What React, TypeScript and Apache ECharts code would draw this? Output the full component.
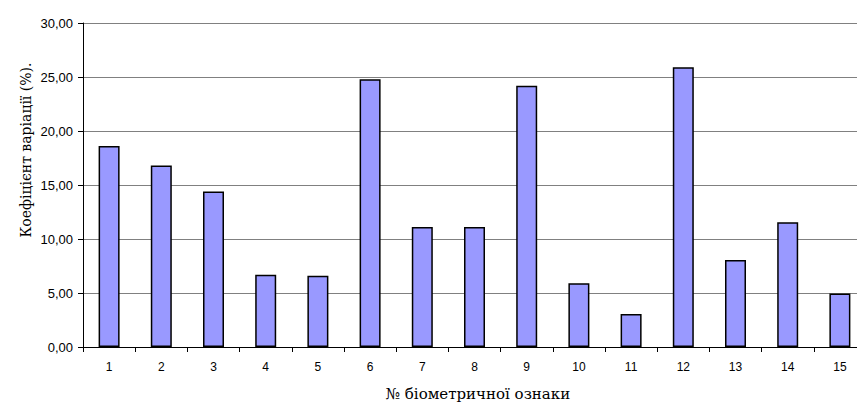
import React, { useEffect, useRef } from "react";
import * as echarts from "echarts";

const categories = ["1", "2", "3", "4", "5", "6", "7", "8", "9", "10", "11", "12", "13", "14", "15"];
const values = [18.6, 16.8, 14.4, 6.7, 6.6, 24.8, 11.1, 11.1, 24.2, 5.9, 3.05, 25.9, 8.05, 11.55, 4.95];
const yTitle = "Коефіцієнт варіації (%).";
const xTitle = "№ біометричної ознаки";

export default function App() {
  const ref = useRef<HTMLDivElement>(null);
  useEffect(() => {
    const chart = echarts.init(ref.current!, null, { renderer: "svg" });
    chart.setOption({
      animation: false,
      backgroundColor: "#ffffff",
      grid: { left: 83, top: 23, bottom: 57, right: 0 },
      xAxis: {
        type: "category",
        data: categories,
        axisLine: { lineStyle: { color: "#000", width: 1 } },
        axisTick: { show: true, length: 5, lineStyle: { color: "#000" } },
        axisLabel: { color: "#000", fontFamily: "Liberation Sans, Arial", fontSize: 12, margin: 14 },
      },
      yAxis: {
        type: "value",
        min: 0,
        max: 30,
        interval: 5,
        axisLine: { show: true, lineStyle: { color: "#000", width: 1 } },
        axisTick: { show: true, length: 5, lineStyle: { color: "#000" } },
        splitLine: { lineStyle: { color: "#808080", width: 1 } },
        axisLabel: {
          color: "#000",
          fontFamily: "Liberation Sans, Arial",
          fontSize: 13,
          margin: 10,
          formatter: (v: number) => v.toFixed(2).replace(".", ","),
        },
      },
      series: [
        {
          type: "bar",
          data: values,
          barWidth: 21,
          itemStyle: { color: "#9999FF", borderColor: "#000", borderWidth: 1.5 },
        },
      ],
      graphic: [
        {
          type: "text",
          x: 26,
          y: 150,
          rotation: Math.PI / 2,
          style: {
            text: yTitle,
            fill: "#000",
            fontFamily: "DejaVu Serif",
            fontSize: 14,
            align: "center",
            verticalAlign: "middle",
          },
        },
        {
          type: "text",
          x: 478,
          y: 394,
          style: {
            text: xTitle,
            fill: "#000",
            fontFamily: "DejaVu Serif",
            fontSize: 15,
            align: "center",
            verticalAlign: "middle",
          },
        },
      ],
    });
    return () => chart.dispose();
  }, []);
  return (
    <div style={{ position: "absolute", left: 0, top: 0, width: 857, height: 404, overflow: "hidden" }}>
      <div ref={ref} style={{ width: 866, height: 404 }} />
    </div>
  );
}
